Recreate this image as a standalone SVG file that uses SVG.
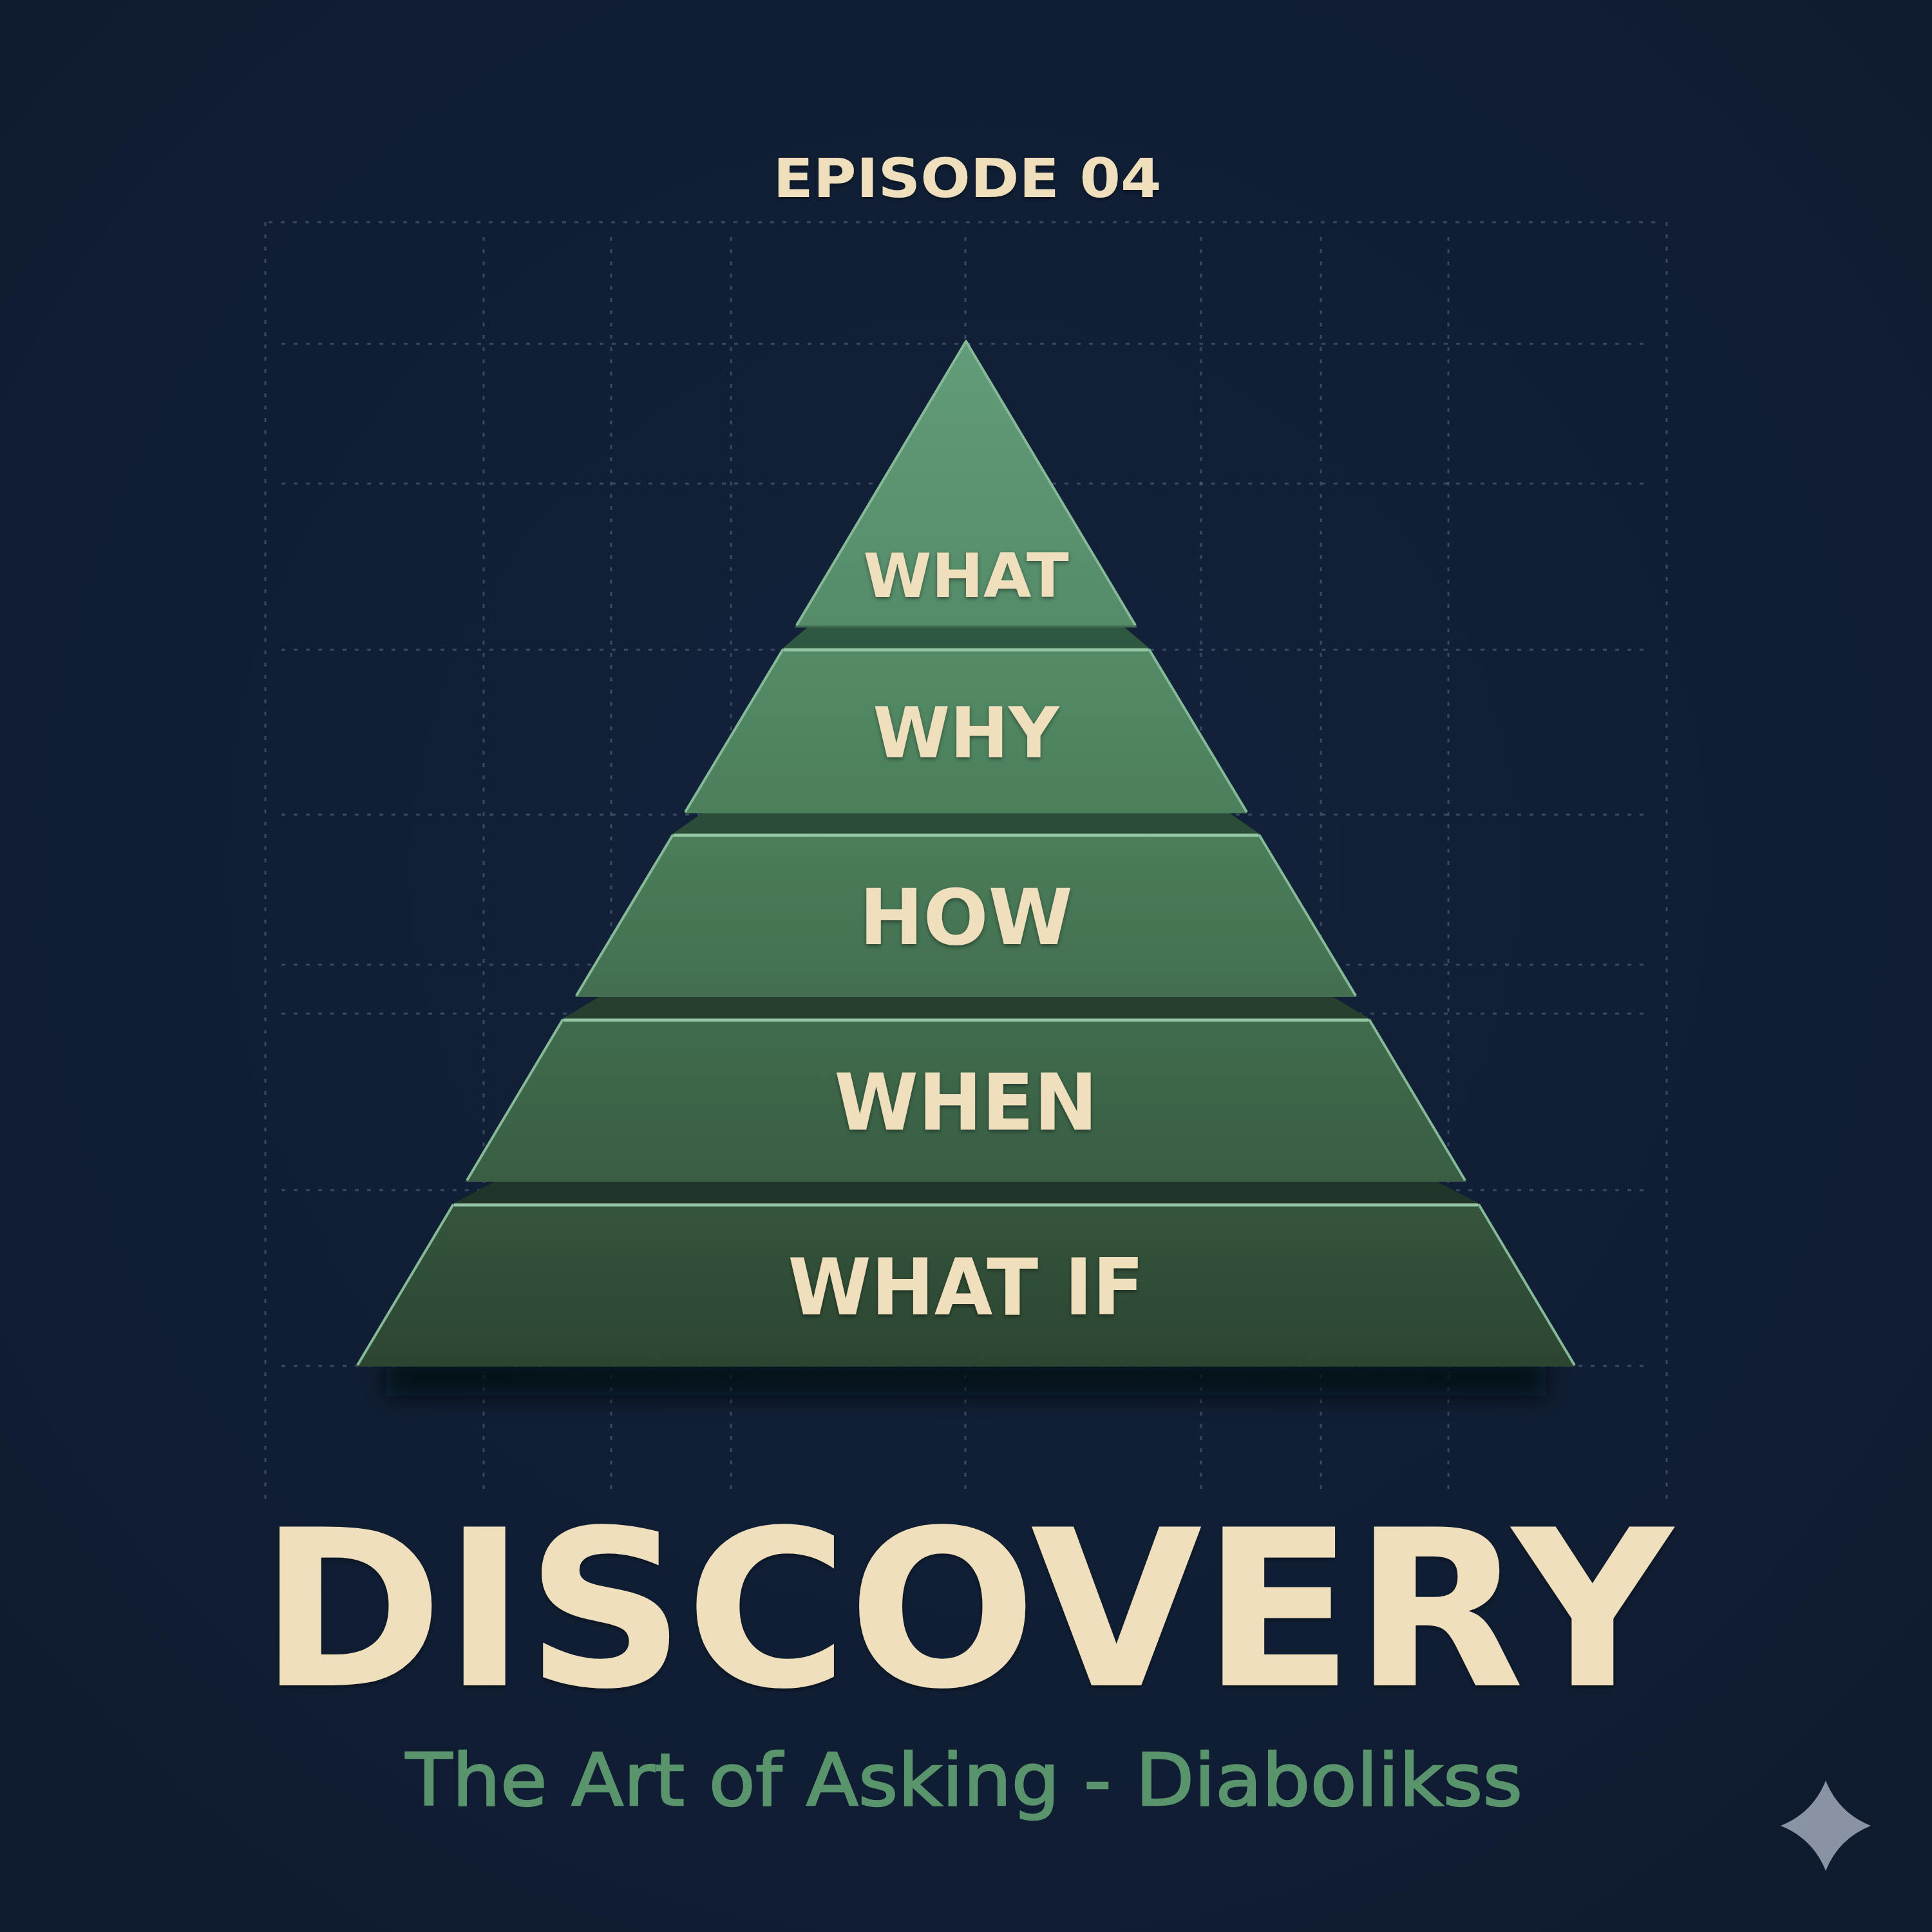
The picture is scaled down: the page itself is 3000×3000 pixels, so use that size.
<svg xmlns="http://www.w3.org/2000/svg" width="3000" height="3000" viewBox="0 0 3000 3000">
<defs>
<radialGradient id="bg" cx="0.5" cy="0.45" r="0.75">
<stop offset="0" stop-color="#13233b"/>
<stop offset="1" stop-color="#0e1a2e"/>
</radialGradient>
<linearGradient id="g1" x1="0" y1="527" x2="0" y2="973" gradientUnits="userSpaceOnUse"><stop offset="0" stop-color="#639c7a"/><stop offset="1" stop-color="#558b69"/></linearGradient>
<linearGradient id="g2" x1="0" y1="1007" x2="0" y2="1263" gradientUnits="userSpaceOnUse"><stop offset="0" stop-color="#548b66"/><stop offset="1" stop-color="#4c7f5c"/></linearGradient>
<linearGradient id="g3" x1="0" y1="1295" x2="0" y2="1548" gradientUnits="userSpaceOnUse"><stop offset="0" stop-color="#4b7e5b"/><stop offset="1" stop-color="#436f50"/></linearGradient>
<linearGradient id="g4" x1="0" y1="1582" x2="0" y2="1835" gradientUnits="userSpaceOnUse"><stop offset="0" stop-color="#416c4d"/><stop offset="1" stop-color="#385d43"/></linearGradient>
<linearGradient id="g5" x1="0" y1="1869" x2="0" y2="2122" gradientUnits="userSpaceOnUse"><stop offset="0" stop-color="#34553c"/><stop offset="1" stop-color="#2c4532"/></linearGradient>
<filter id="ts" x="-10%" y="-30%" width="120%" height="160%">
<feDropShadow dx="0" dy="3" stdDeviation="3" flood-color="#000" flood-opacity="0.4"/>
</filter>
<filter id="blur" x="-20%" y="-100%" width="140%" height="300%">
<feGaussianBlur stdDeviation="18"/>
</filter>
<style>
.grid{stroke:#5d6d84;stroke-width:3;stroke-dasharray:6 13;opacity:0.55;fill:none}
.edge{fill:none;stroke:#86b998;stroke-width:4;stroke-linejoin:round}
.topline{stroke:#93c4a4;stroke-width:5}
.label{font-family:"DejaVu Sans","Liberation Sans",sans-serif;font-weight:bold;fill:#efdfbd;text-anchor:middle}
.band{stroke:none}
</style>
</defs>
<rect width="3000" height="3000" fill="url(#bg)"/>

<g id="grid">
<path class="grid" d="M417 345H2580M437 534H2563M437 751H2563M437 1009H2563M437 1265H2563M437 1498H2563M437 1574H2563M437 1848H2563M437 2121H2563"/>
<path class="grid" d="M412 345V2330M2588 345V2330M751 368V2325M949 368V2325M1135 368V2325M1499 368V2325M1865 368V2325M2051 368V2325M2249 368V2325"/>
</g>

<g id="shadow">
<rect x="600" y="2112" width="1800" height="55" fill="#040910" opacity="0.8" filter="url(#blur)"/>
</g>

<g id="connectors"/>

<g id="bands">
<polygon class="band" fill="#2f5840" points="1255,973 1745,973 1785,1007 1215,1007"/>
<polygon class="band" fill="#2b4c37" points="1090,1263 1910,1263 1956,1295 1044,1295"/>
<polygon class="band" fill="#263f2f" points="930,1548 2070,1548 2127,1582 873,1582"/>
<polygon class="band" fill="#20352a" points="768,1835 2232,1835 2297,1869 703,1869"/>
</g>

<g id="tier-what">
<polygon fill="url(#g1)" points="1500,527 1765,973 1235,973"/>
<polyline class="edge" points="1237,971 1500,530 1763,971"/>
<line x1="1235" y1="973" x2="1765" y2="973" stroke="#3f6b50" stroke-width="3"/>
<text class="label" x="1500" y="927" font-size="95" textLength="319" lengthAdjust="spacingAndGlyphs" filter="url(#ts)">WHAT</text>
</g>

<g id="tier-why">
<polygon fill="url(#g2)" points="1215,1007 1785,1007 1937,1263 1063,1263"/>
<line class="edge" x1="1064" y1="1261" x2="1216" y2="1008"/>
<line class="edge" x1="1936" y1="1261" x2="1784" y2="1008"/>
<line class="topline" x1="1217" y1="1009" x2="1783" y2="1009"/>
<text class="label" x="1500" y="1176" font-size="108" textLength="289" lengthAdjust="spacingAndGlyphs" filter="url(#ts)">WHY</text>
</g>

<g id="tier-how">
<polygon fill="url(#g3)" points="1044,1295 1956,1295 2107,1548 893,1548"/>
<line class="edge" x1="895" y1="1546" x2="1045" y2="1296"/>
<line class="edge" x1="2105" y1="1546" x2="1955" y2="1296"/>
<line class="topline" x1="1046" y1="1297" x2="1954" y2="1297"/>
<text class="label" x="1500" y="1466" font-size="119" textLength="331" lengthAdjust="spacingAndGlyphs" filter="url(#ts)">HOW</text>
</g>

<g id="tier-when">
<polygon fill="url(#g4)" points="873,1582 2127,1582 2277,1835 723,1835"/>
<line class="edge" x1="725" y1="1833" x2="874" y2="1583" stroke="#75a585"/>
<line class="edge" x1="2275" y1="1833" x2="2126" y2="1583" stroke="#75a585"/>
<line class="topline" x1="875" y1="1584" x2="2125" y2="1584" stroke="#84b594"/>
<text class="label" x="1500" y="1754" font-size="121" textLength="409" lengthAdjust="spacingAndGlyphs" filter="url(#ts)">WHEN</text>
</g>

<g id="tier-whatif">
<polygon fill="url(#g5)" points="703,1869 2297,1869 2447,2122 553,2122"/>
<line class="edge" x1="555" y1="2120" x2="704" y2="1870" stroke="#62906f"/>
<line class="edge" x1="2445" y1="2120" x2="2296" y2="1870" stroke="#62906f"/>
<line class="topline" x1="705" y1="1871" x2="2295" y2="1871" stroke="#7aa98a"/>
<text class="label" x="1500" y="2041" font-size="121" textLength="553" lengthAdjust="spacingAndGlyphs" filter="url(#ts)">WHAT IF</text>
</g>

<g id="episode">
<text class="label" x="1502" y="306" font-size="84" textLength="603" lengthAdjust="spacingAndGlyphs" filter="url(#ts)">EPISODE 04</text>
</g>

<g id="title">
<text class="label" x="1500" y="2617" font-size="338" textLength="2195" lengthAdjust="spacingAndGlyphs" fill="#eedcbb" filter="url(#ts)">DISCOVERY</text>
</g>

<g id="subtitle">
<text x="1497" y="2803" font-family="DejaVu Sans, Liberation Sans, sans-serif" font-size="113" text-anchor="middle" fill="#5a946d" stroke="#5a946d" stroke-width="2.5" textLength="1734" lengthAdjust="spacingAndGlyphs">The Art of Asking - Diabolikss</text>
</g>

<g id="sparkle">
<path fill="#8a93a3" d="M2835 2765 Q2855 2815 2905 2835 Q2855 2855 2835 2905 Q2815 2855 2765 2835 Q2815 2815 2835 2765 Z"/>
</g>
</svg>
